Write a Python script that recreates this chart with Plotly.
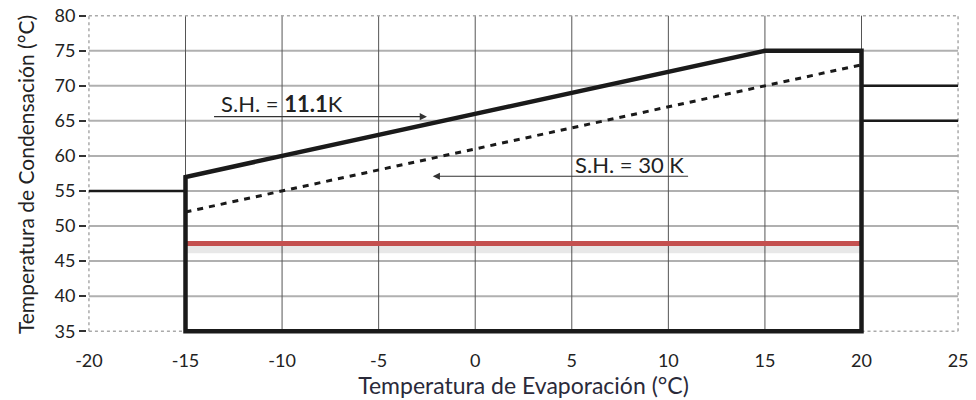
import plotly.graph_objects as go

# Data
envelope_x = [-15, -15, 15, 20, 20, -15, -15]
envelope_y = [35, 57, 75, 75, 35, 35, 57]
sh30_x = [-15, 20]
sh30_y = [52, 73]
left_x = [-20, -15]
left_y = [55, 55]
right_x = [20, 25]
right_y_upper = [70, 70]
right_y_lower = [65, 65]
red_x = [-15, 20]
red_y = [47.5, 47.5]
x_ticks = [-20, -15, -10, -5, 0, 5, 10, 15, 20, 25]
x_ticktext = ["-20", "-15", "-10", "-5", "0", "5", "10", "15", "20", "25"]
y_ticks = [35, 40, 45, 50, 55, 60, 65, 70, 75, 80]
x_grid = [-15, -10, -5, 0, 5, 10, 15, 20]
y_grid = [40, 45, 50, 55, 60, 65, 70, 75]

FONT = "Lato"
fig = go.Figure()

shapes = []
for yv in y_grid:
    shapes.append(dict(type="line", xref="x", yref="y", x0=-20, x1=25, y0=yv, y1=yv,
                       line=dict(color="#b0b0b0", width=2), layer="below"))
for xv in x_grid:
    shapes.append(dict(type="line", xref="x", yref="y", x0=xv, x1=xv, y0=35, y1=80,
                       line=dict(color="#555555", width=1), layer="below"))
# dotted border
dot = dict(color="#aaaaaa", width=1.5, dash="dot")
shapes += [
    dict(type="line", xref="x", yref="y", x0=-20, x1=25, y0=80, y1=80, line=dot, layer="below"),
    dict(type="line", xref="x", yref="y", x0=-20, x1=-20, y0=35, y1=80, line=dot, layer="below"),
    dict(type="line", xref="x", yref="y", x0=25, x1=25, y0=35, y1=80, line=dot, layer="below"),
    dict(type="line", xref="x", yref="y", x0=-20, x1=-15, y0=35, y1=35, line=dot, layer="below"),
    dict(type="line", xref="x", yref="y", x0=20, x1=25, y0=35, y1=35, line=dot, layer="below"),
]

# red line shadow
fig.add_trace(go.Scatter(x=red_x, y=[v - 0.6 for v in red_y], mode="lines",
                         line=dict(color="rgba(0,0,0,0.09)", width=11), hoverinfo="skip", showlegend=False))
fig.add_trace(go.Scatter(x=red_x, y=red_y, mode="lines",
                         line=dict(color="#c4504f", width=5), showlegend=False))
fig.add_trace(go.Scatter(x=sh30_x, y=sh30_y, mode="lines",
                         line=dict(color="#1a1a1a", width=3, dash="6px,6px"), showlegend=False))
fig.add_trace(go.Scatter(x=envelope_x, y=envelope_y, mode="lines",
                         line=dict(color="#1a1a1a", width=4.5, simplify=False), showlegend=False))
fig.add_trace(go.Scatter(x=left_x, y=left_y, mode="lines",
                         line=dict(color="#1a1a1a", width=2.5), showlegend=False))
fig.add_trace(go.Scatter(x=right_x, y=right_y_upper, mode="lines",
                         line=dict(color="#1a1a1a", width=2.5), showlegend=False))
fig.add_trace(go.Scatter(x=right_x, y=right_y_lower, mode="lines",
                         line=dict(color="#1a1a1a", width=2.5), showlegend=False))

annotations = [
    dict(x=-10.0, y=67.5, xref="x", yref="y", text="S.H. = <b>11.1</b>K", showarrow=False,
         font=dict(family=FONT, size=22, color="#222")),
    dict(x=-2.5, y=65.6, ax=-13.6, ay=65.6, xref="x", yref="y", axref="x", ayref="y",
         text="", showarrow=True, arrowhead=2, arrowsize=1.2, arrowwidth=1.2, arrowcolor="#333"),
    dict(x=8.0, y=58.8, xref="x", yref="y", text="S.H. = 30 K", showarrow=False,
         font=dict(family=FONT, size=22, color="#222")),
    dict(x=-2.2, y=57.1, ax=11.1, ay=57.1, xref="x", yref="y", axref="x", ayref="y",
         text="", showarrow=True, arrowhead=2, arrowsize=1.2, arrowwidth=1.2, arrowcolor="#333"),
]

fig.update_layout(
    width=976, height=400,
    margin=dict(l=87, r=16, t=15, b=66),
    paper_bgcolor="white", plot_bgcolor="white",
    shapes=shapes, annotations=annotations,
    showlegend=False,
    font=dict(family=FONT, color="#222"),
    xaxis=dict(range=[-20.1, 25.1], tickvals=x_ticks, ticktext=x_ticktext, showgrid=False, zeroline=False,
               showline=False, ticks="outside", ticklen=10, tickcolor="rgba(0,0,0,0)",
               automargin=False, tickfont=dict(size=18, color="#222"),
               title=dict(text="Temperatura de Evaporación (°C)", font=dict(size=23, color="#2a2a3a"), standoff=2)),
    yaxis=dict(range=[34.6, 80.1], tickvals=y_ticks, showgrid=False, zeroline=False,
               showline=False, ticks="outside", ticklen=7, tickwidth=2, tickcolor="#333",
               automargin=False, tickfont=dict(size=18, color="#222"),
               title=dict(text="Temperatura de Condensación (°C)", font=dict(size=21, color="#222"), standoff=14)),
)

fig.write_html("out.html", config={"displayModeBar": False},
               post_script="document.body.style.margin='0';document.body.style.overflow='hidden';")
